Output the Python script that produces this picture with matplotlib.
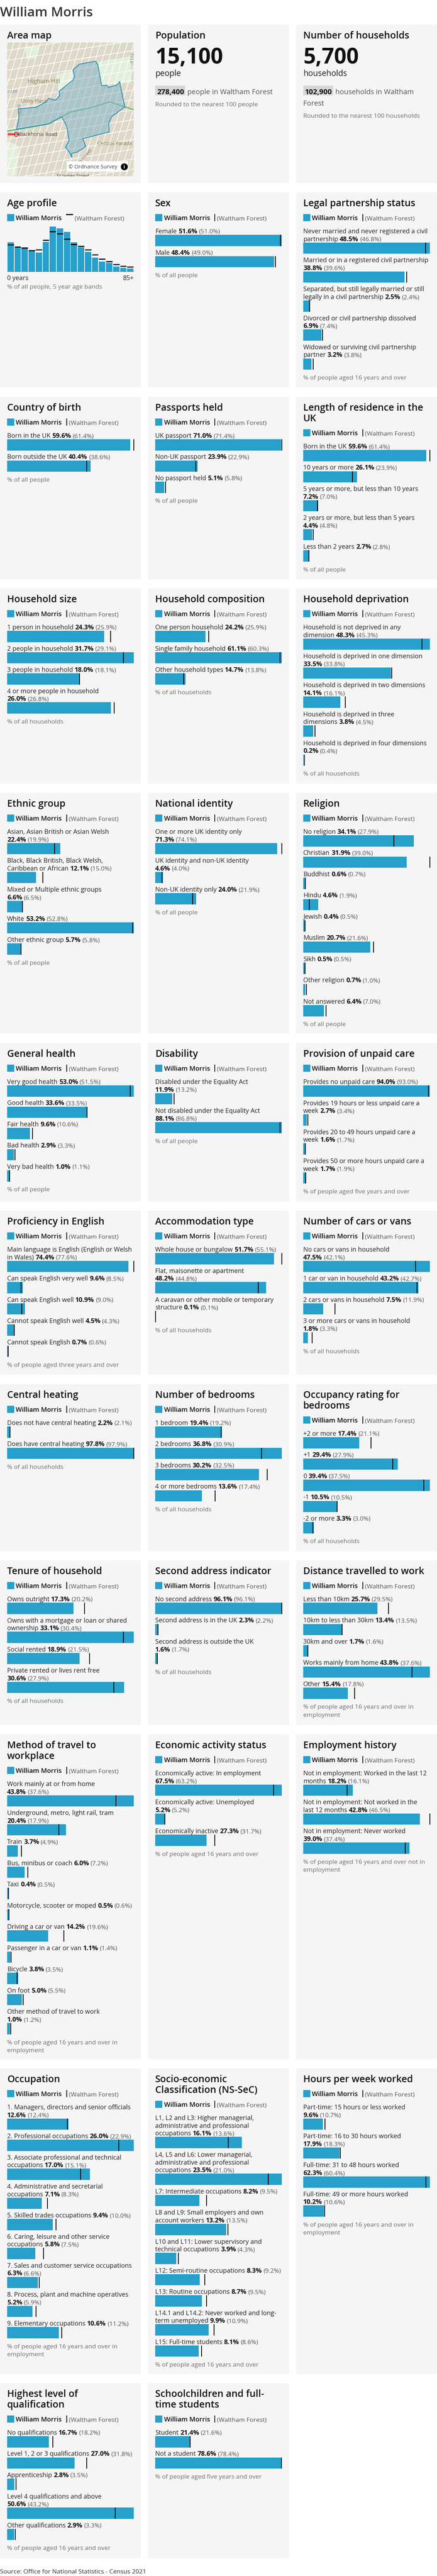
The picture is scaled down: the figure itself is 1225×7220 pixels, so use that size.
#!/usr/bin/python3
import matplotlib
matplotlib.use('Agg')
import numpy as np
import matplotlib.pyplot as plt
from matplotlib.patches import Rectangle, Polygon

plt.rcParams['font.family'] = ['Open Sans', 'DejaVu Sans']

W = 1225
H = 7221

area_name = 'William Morris'
parent_name = '(Waltham Forest)'

# big numbers
population = '15,100'
population_parent = '278,400'
households = '5,700'
households_parent = '102,900'

# age profile, 18 five year bands
age_values = [7.5, 6.1, 6.2, 5.2, 4.8, 7.6, 11.5, 11.0, 10.1, 7.5, 6.2, 5.0, 3.6, 2.6, 2.2, 1.3, 0.9, 0.7]
age_parent = [6.8, 6.3, 6.0, 5.4, 5.6, 8.0, 10.2, 9.7, 8.3, 6.9, 6.5, 5.6, 4.3, 3.2, 2.6, 1.8, 1.4, 1.2]

sex_labels = ['Female', 'Male']
sex_values = [51.6, 48.4]
sex_parent = [51.0, 49.0]

legal_labels = ['Never married and never registered a civil\npartnership', 'Married or in a registered civil partnership\n',
                'Separated, but still legally married or still\nlegally in a civil partnership', 'Divorced or civil partnership dissolved\n',
                'Widowed or surviving civil partnership\npartner']
legal_values = [48.5, 38.8, 2.5, 6.9, 3.2]
legal_parent = [46.8, 39.6, 2.4, 7.4, 3.8]

birth_labels = ['Born in the UK', 'Born outside the UK']
birth_values = [59.6, 40.4]
birth_parent = [61.4, 38.6]

passport_labels = ['UK passport', 'Non-UK passport', 'No passport held']
passport_values = [71.0, 23.9, 5.1]
passport_parent = [71.4, 22.9, 5.8]

residence_labels = ['Born in the UK', '10 years or more', '5 years or more, but less than 10 years\n',
                    '2 years or more, but less than 5 years\n', 'Less than 2 years']
residence_values = [59.6, 26.1, 7.2, 4.4, 2.7]
residence_parent = [61.4, 23.9, 7.0, 4.8, 2.8]

hhsize_labels = ['1 person in household', '2 people in household', '3 people in household', '4 or more people in household\n']
hhsize_values = [24.3, 31.7, 18.0, 26.0]
hhsize_parent = [25.9, 29.1, 18.1, 26.8]

hhcomp_labels = ['One person household', 'Single family household', 'Other household types']
hhcomp_values = [24.2, 61.1, 14.7]
hhcomp_parent = [25.9, 60.3, 13.8]

depr_labels = ['Household is not deprived in any\ndimension', 'Household is deprived in one dimension\n',
               'Household is deprived in two dimensions\n', 'Household is deprived in three\ndimensions',
               'Household is deprived in four dimensions\n']
depr_values = [48.3, 33.5, 14.1, 3.8, 0.2]
depr_parent = [45.3, 33.8, 16.1, 4.5, 0.4]

ethnic_labels = ['Asian, Asian British or Asian Welsh\n', 'Black, Black British, Black Welsh,\nCaribbean or African',
                 'Mixed or Multiple ethnic groups\n', 'White', 'Other ethnic group']
ethnic_values = [22.4, 12.1, 6.6, 53.2, 5.7]
ethnic_parent = [19.9, 15.0, 6.5, 52.8, 5.8]

identity_labels = ['One or more UK identity only\n', 'UK identity and non-UK identity\n', 'Non-UK identity only']
identity_values = [71.3, 4.6, 24.0]
identity_parent = [74.1, 4.0, 21.9]

religion_labels = ['No religion', 'Christian', 'Buddhist', 'Hindu', 'Jewish', 'Muslim', 'Sikh', 'Other religion', 'Not answered']
religion_values = [34.1, 31.9, 0.6, 4.6, 0.4, 20.7, 0.5, 0.7, 6.4]
religion_parent = [27.9, 39.0, 0.7, 1.9, 0.5, 21.6, 0.5, 1.0, 7.0]

health_labels = ['Very good health', 'Good health', 'Fair health', 'Bad health', 'Very bad health']
health_values = [53.0, 33.6, 9.6, 2.9, 1.0]
health_parent = [51.5, 33.5, 10.6, 3.3, 1.1]

disability_labels = ['Disabled under the Equality Act\n', 'Not disabled under the Equality Act\n']
disability_values = [11.9, 88.1]
disability_parent = [13.2, 86.8]

care_labels = ['Provides no unpaid care', 'Provides 19 hours or less unpaid care a\nweek',
               'Provides 20 to 49 hours unpaid care a\nweek', 'Provides 50 or more hours unpaid care a\nweek']
care_values = [94.0, 2.7, 1.6, 1.7]
care_parent = [93.0, 3.4, 1.7, 1.9]

english_labels = ['Main language is English (English or Welsh\nin Wales)', 'Can speak English very well', 'Can speak English well',
                  'Cannot speak English well', 'Cannot speak English']
english_values = [74.4, 9.6, 10.9, 4.5, 0.7]
english_parent = [77.6, 8.5, 9.0, 4.3, 0.6]

accom_labels = ['Whole house or bungalow', 'Flat, maisonette or apartment\n', 'A caravan or other mobile or temporary\nstructure']
accom_values = [51.7, 48.2, 0.1]
accom_parent = [55.1, 44.8, 0.1]

cars_labels = ['No cars or vans in household\n', '1 car or van in household', '2 cars or vans in household', '3 or more cars or vans in household\n']
cars_values = [47.5, 43.2, 7.5, 1.8]
cars_parent = [42.1, 42.7, 11.9, 3.3]

heating_labels = ['Does not have central heating', 'Does have central heating']
heating_values = [2.2, 97.8]
heating_parent = [2.1, 97.9]

bedroom_labels = ['1 bedroom', '2 bedrooms', '3 bedrooms', '4 or more bedrooms']
bedroom_values = [19.4, 36.8, 30.2, 13.6]
bedroom_parent = [19.2, 30.9, 32.5, 17.4]

occupancy_labels = ['+2 or more', '+1', '0', '-1', '-2 or more']
occupancy_values = [17.4, 29.4, 39.4, 10.5, 3.3]
occupancy_parent = [21.1, 27.9, 37.5, 10.5, 3.0]

tenure_labels = ['Owns outright', 'Owns with a mortgage or loan or shared\nownership', 'Social rented', 'Private rented or lives rent free\n']
tenure_values = [17.3, 33.1, 18.9, 30.6]
tenure_parent = [20.2, 30.4, 21.5, 27.9]

second_labels = ['No second address', 'Second address is in the UK', 'Second address is outside the UK\n']
second_values = [96.1, 2.3, 1.6]
second_parent = [96.1, 2.2, 1.7]

distance_labels = ['Less than 10km', '10km to less than 30km', '30km and over', 'Works mainly from home', 'Other']
distance_values = [25.7, 13.4, 1.7, 43.8, 15.4]
distance_parent = [29.5, 13.5, 1.6, 37.6, 17.8]

travel_labels = ['Work mainly at or from home\n', 'Underground, metro, light rail, tram\n', 'Train', 'Bus, minibus or coach', 'Taxi',
                 'Motorcycle, scooter or moped', 'Driving a car or van', 'Passenger in a car or van', 'Bicycle', 'On foot',
                 'Other method of travel to work\n']
travel_values = [43.8, 20.4, 3.7, 6.0, 0.4, 0.5, 14.2, 1.1, 3.8, 5.0, 1.0]
travel_parent = [37.6, 17.9, 4.9, 7.2, 0.5, 0.6, 19.6, 1.4, 3.5, 5.5, 1.2]

economic_labels = ['Economically active: In employment\n', 'Economically active: Unemployed\n', 'Economically inactive']
economic_values = [67.5, 5.2, 27.3]
economic_parent = [63.2, 5.2, 31.7]

history_labels = ['Not in employment: Worked in the last 12\nmonths', 'Not in employment: Not worked in the\nlast 12 months', 'Not in employment: Never worked\n']
history_values = [18.2, 42.8, 39.0]
history_parent = [16.1, 46.5, 37.4]

occupation_labels = ['1. Managers, directors and senior officials\n', '2. Professional occupations', '3. Associate professional and technical\noccupations',
                     '4. Administrative and secretarial\noccupations', '5. Skilled trades occupations', '6. Caring, leisure and other service\noccupations',
                     '7. Sales and customer service occupations\n', '8. Process, plant and machine operatives\n', '9. Elementary occupations']
occupation_values = [12.6, 26.0, 17.0, 7.1, 9.4, 5.8, 6.3, 5.2, 10.6]
occupation_parent = [12.4, 22.9, 15.1, 8.3, 10.0, 7.5, 6.6, 5.9, 11.2]

nssec_labels = ['L1, L2 and L3: Higher managerial,\nadministrative and professional\noccupations', 'L4, L5 and L6: Lower managerial,\nadministrative and professional\noccupations',
                'L7: Intermediate occupations', 'L8 and L9: Small employers and own\naccount workers', 'L10 and L11: Lower supervisory and\ntechnical occupations',
                'L12: Semi-routine occupations', 'L13: Routine occupations', 'L14.1 and L14.2: Never worked and long-\nterm unemployed', 'L15: Full-time students']
nssec_values = [16.1, 23.5, 8.2, 13.2, 3.9, 8.3, 8.7, 9.9, 8.1]
nssec_parent = [13.6, 21.0, 9.5, 13.5, 4.3, 9.2, 9.5, 10.9, 8.6]

hours_labels = ['Part-time: 15 hours or less worked\n', 'Part-time: 16 to 30 hours worked\n', 'Full-time: 31 to 48 hours worked\n', 'Full-time: 49 or more hours worked\n']
hours_values = [9.6, 17.9, 62.3, 10.2]
hours_parent = [10.7, 18.3, 60.4, 10.6]

qual_labels = ['No qualifications', 'Level 1, 2 or 3 qualifications', 'Apprenticeship', 'Level 4 qualifications and above\n', 'Other qualifications']
qual_values = [16.7, 27.0, 2.8, 50.6, 2.9]
qual_parent = [18.2, 31.8, 3.5, 43.2, 3.3]

student_labels = ['Student', 'Not a student']
student_values = [21.4, 78.6]
student_parent = [21.6, 78.4]

# map outline, road in its own units
ward_x = [343, 351, 365, 383, 388, 420, 430, 432, 448, 400, 390, 392, 297, 305, 308, 278, 258, 258, 250, 235, 248, 240, 222, 175, 60, 68, 66, 100, 130, 165, 175, 200, 214, 212, 262, 268, 262, 285]
ward_y = [436, 460, 610, 605, 622, 605, 580, 610, 760, 830, 880, 938, 985, 1025, 1040, 1080, 1090, 1118, 1085, 1045, 1000, 900, 830, 880, 920, 840, 775, 768, 762, 725, 700, 712, 680, 650, 570, 545, 498, 457]
road_x = [26, 60, 175, 222, 250, 335, 395, 448, 480]
road_y = [932, 920, 880, 830, 798, 760, 725, 760, 780]

blue = '#27a0cc'
card_bg = '#f5f5f6'
text_dark = '#222222'
text_mid = '#555555'
text_light = '#707071'

col_x = [0, 415, 830]
card_w = 395
pad = 20
chart_w = 355
bar_h = 31.5

# font sizes in pixels
SIZE_TITLE = 26.7
SIZE_LABEL = 17.9
SIZE_VALUE = 18.3
SIZE_PARENT = 17.5
SIZE_FOOT = 17.5

# top and bottom of every row of cards
row_top = [70, 540, 1113, 1650, 2223, 2924, 3394, 3880, 4374, 4862, 5798, 6680]
row_bottom = [514, 1087, 1625, 2197, 2898, 3369, 3854, 4349, 4836, 5773, 6655, 7171]

F_ALL = '% of all people'
F_HH = '% of all households'
F_16 = '% of people aged 16 years and over'
F_16E = '% of people aged 16 years and over in\nemployment'
F_5 = '% of people aged five years and over'

cards = [
    (1, 1, 'Sex', sex_labels, sex_values, sex_parent, F_ALL),
    (1, 2, 'Legal partnership status', legal_labels, legal_values, legal_parent, F_16),
    (2, 0, 'Country of birth', birth_labels, birth_values, birth_parent, F_ALL),
    (2, 1, 'Passports held', passport_labels, passport_values, passport_parent, F_ALL),
    (2, 2, 'Length of residence in the\nUK', residence_labels, residence_values, residence_parent, F_ALL),
    (3, 0, 'Household size', hhsize_labels, hhsize_values, hhsize_parent, F_HH),
    (3, 1, 'Household composition', hhcomp_labels, hhcomp_values, hhcomp_parent, F_HH),
    (3, 2, 'Household deprivation', depr_labels, depr_values, depr_parent, F_HH),
    (4, 0, 'Ethnic group', ethnic_labels, ethnic_values, ethnic_parent, F_ALL),
    (4, 1, 'National identity', identity_labels, identity_values, identity_parent, F_ALL),
    (4, 2, 'Religion', religion_labels, religion_values, religion_parent, F_ALL),
    (5, 0, 'General health', health_labels, health_values, health_parent, F_ALL),
    (5, 1, 'Disability', disability_labels, disability_values, disability_parent, F_ALL),
    (5, 2, 'Provision of unpaid care', care_labels, care_values, care_parent, F_5),
    (6, 0, 'Proficiency in English', english_labels, english_values, english_parent, '% of people aged three years and over'),
    (6, 1, 'Accommodation type', accom_labels, accom_values, accom_parent, F_HH),
    (6, 2, 'Number of cars or vans', cars_labels, cars_values, cars_parent, F_HH),
    (7, 0, 'Central heating', heating_labels, heating_values, heating_parent, F_HH),
    (7, 1, 'Number of bedrooms', bedroom_labels, bedroom_values, bedroom_parent, F_HH),
    (7, 2, 'Occupancy rating for\nbedrooms', occupancy_labels, occupancy_values, occupancy_parent, F_HH),
    (8, 0, 'Tenure of household', tenure_labels, tenure_values, tenure_parent, F_HH),
    (8, 1, 'Second address indicator', second_labels, second_values, second_parent, F_HH),
    (8, 2, 'Distance travelled to work', distance_labels, distance_values, distance_parent, F_16E),
    (9, 0, 'Method of travel to\nworkplace', travel_labels, travel_values, travel_parent, F_16E),
    (9, 1, 'Economic activity status', economic_labels, economic_values, economic_parent, F_16),
    (9, 2, 'Employment history', history_labels, history_values, history_parent, '% of people aged 16 years and over not in\nemployment'),
    (10, 0, 'Occupation', occupation_labels, occupation_values, occupation_parent, F_16E),
    (10, 1, 'Socio-economic\nClassification (NS-SeC)', nssec_labels, nssec_values, nssec_parent, F_16),
    (10, 2, 'Hours per week worked', hours_labels, hours_values, hours_parent, F_16E),
    (11, 0, 'Highest level of\nqualification', qual_labels, qual_values, qual_parent, F_16),
    (11, 1, 'Schoolchildren and full-\ntime students', student_labels, student_values, student_parent, F_5),
]

fig = plt.figure(figsize=(W / 100, H / 100), dpi=100, facecolor='white')
bg = fig.add_axes([0, 0, 1, 1])
bg.set_xlim(0, W)
bg.set_ylim(H, 0)
bg.axis('off')
renderer = fig.canvas.get_renderer()


def px(size):
    return size * 0.72


def chain(x, y, parts):
    # draw runs of text on one baseline, one after the other
    for s, size, weight, color, gap in parts:
        t = bg.text(x, y, s, fontsize=px(size), fontweight=weight, color=color, va='baseline', ha='left')
        x = x + t.get_window_extent(renderer).width + gap
    return x


def centre_text(x, yc, s, size, weight='normal', color=text_dark):
    # yc is the middle of the line, the baseline sits a third of the size below it
    bg.text(x, yc + size * 0.34, s, fontsize=px(size), fontweight=weight, color=color, va='baseline', ha='left')


def draw_card(col, row):
    bg.add_patch(Rectangle((col_x[col], row_top[row]), card_w, row_bottom[row] - row_top[row], color=card_bg, lw=0, zorder=0))


def draw_title(x, top, title):
    lines = title.split('\n')
    for i, line in enumerate(lines):
        centre_text(x, top + 29 + 30 * i, line, SIZE_TITLE, 'semibold', '#111111')
    return len(lines)


def draw_legend(x, yc, age=False):
    bg.add_patch(Rectangle((x, yc - 10), 20, 20, color=blue, lw=0, zorder=2))
    centre_text(x + 24.5, yc, area_name, 18.4, 'semibold', '#111111')
    if age:
        bg.add_patch(Rectangle((x + 165, yc - 10), 20, 3, color='black', lw=0, zorder=2))
        centre_text(x + 189, yc + 1, parent_name, SIZE_PARENT, 'normal', text_mid)
    else:
        bg.add_patch(Rectangle((x + 165.5, yc - 10), 2.6, 20, color='black', lw=0, zorder=2))
        centre_text(x + 173, yc + 1, parent_name, SIZE_PARENT, 'normal', text_mid)


def draw_bars(col, row, title, labels, values, parent, footer):
    x = col_x[col] + pad
    top = row_top[row]
    nt = draw_title(x, top, title)
    draw_legend(x, top + 71 + 30 * (nt - 1))
    ax = fig.add_axes([x / W, 1 - row_bottom[row] / H, chart_w / W, (row_bottom[row] - top) / H])
    ax.set_xlim(0, max(values + parent))
    ax.set_ylim(row_bottom[row], top)
    ax.axis('off')
    yc = top + 108 + 30 * (nt - 1)
    for lab, v, p in zip(labels, values, parent):
        lines = lab.split('\n')
        for line in lines[:-1]:
            centre_text(x, yc, line, SIZE_LABEL)
            yc += 21.7
        base = yc + 6
        parts = []
        if lines[-1]:
            parts.append((lines[-1], SIZE_LABEL, 'normal', text_dark, 4.5))
        parts.append(('%.1f%%' % v, SIZE_VALUE, 'bold', '#111111', 4))
        parts.append(('(%.1f%%)' % p, SIZE_PARENT, 'normal', text_mid, 0))
        chain(x, base, parts)
        bar_top = yc + 11
        ax.barh(bar_top + bar_h / 2, v, height=bar_h, color=blue, linewidth=0)
        ax.vlines(p, bar_top, bar_top + bar_h, color='black', linewidth=px(2.2), clip_on=False, zorder=3)
        yc = bar_top + bar_h + 17
    yc = yc - 17 + 21
    for line in footer.split('\n'):
        centre_text(x, yc, line, SIZE_FOOT, 'normal', text_light)
        yc += 22.5


def draw_age():
    x = col_x[0] + pad
    top = row_top[1]
    draw_title(x, top, 'Age profile')
    draw_legend(x, top + 71, age=True)
    ax = fig.add_axes([x / W, 1 - 762 / H, chart_w / W, 128 / H])
    pos = np.arange(len(age_values))
    ax.bar(pos, age_values, width=0.9, color=blue, linewidth=0)
    ax.hlines(age_parent, pos - 0.45, pos + 0.45, color='black', linewidth=px(3), zorder=3)
    ax.set_xlim(-0.5, len(age_values) - 0.5)
    ax.set_ylim(0, 11.5 * 128 / 126)
    for s in ['top', 'left', 'right']:
        ax.spines[s].set_visible(False)
    ax.spines['bottom'].set_color('#888888')
    ax.set_xticks([])
    ax.set_yticks([])
    ax.patch.set_alpha(0)
    centre_text(x, 779, '0 years', SIZE_LABEL)
    bg.text(x + chart_w, 779 + 6, '85+', fontsize=px(SIZE_LABEL), color=text_dark, va='baseline', ha='right')
    centre_text(x, 803, '% of all people, 5 year age bands', SIZE_FOOT, 'normal', text_light)


def draw_map():
    x = col_x[0] + pad
    top = row_top[0]
    centre_text(x, top + 29, 'Area map', SIZE_TITLE, 'semibold', '#111111')
    ax = fig.add_axes([x / W, 1 - 495 / H, chart_w / W, 375 / H])
    ax.set_xlim(26, 480)
    ax.set_ylim(1252, 303)
    ax.axis('off')
    ax.add_patch(Rectangle((26, 303), 454, 949, color='#ddd8c7', lw=0, zorder=0))
    # parks
    for park_x, park_y in [([350, 470, 470, 430, 365], [440, 400, 590, 590, 610]), ([26, 70, 60, 26], [1000, 1040, 1250, 1250]),
                           ([205, 265, 260, 210], [530, 500, 590, 650]), ([90, 140, 130, 95], [330, 330, 420, 420])]:
        ax.add_patch(Polygon(np.column_stack([park_x, park_y]), color='#e3efdc', lw=0, zorder=1))
    # street pattern, only a background texture
    for x0 in np.arange(-220, 760, 24):
        ax.plot([x0, x0 + 150], [1252, 303], color='white', lw=1.3, zorder=2)
    for y0 in np.arange(220, 1420, 70):
        ax.plot([26, 480], [y0 + 70, y0 - 70], color='white', lw=1.3, zorder=2)
    ax.plot(road_x, road_y, color='#6dbf7a', lw=2.6, zorder=3)
    ward = np.column_stack([ward_x, ward_y])
    ax.add_patch(Polygon(ward, closed=True, facecolor='#7fb2c8', alpha=0.5, lw=0, zorder=4))
    ax.add_patch(Polygon(ward, closed=True, fill=False, edgecolor='#1f8fb8', lw=1.6, zorder=5))
    ax.text(158, 580, 'Higham Hill', fontsize=px(17), color='#8d7f4e', ha='center', va='center', zorder=6)
    ax.text(122, 720, 'Unity Place', fontsize=px(14), color='#8d7f4e', ha='center', va='center', zorder=6)
    ax.text(135, 954, 'Blackhorse Road', fontsize=px(14), color='#444444', ha='center', va='center', zorder=6)
    ax.text(412, 1021, 'Central Parade', fontsize=px(14), color='#8d7f4e', ha='center', va='center', zorder=6)
    ax.text(45, 648, 'r Lee', fontsize=px(13), color='#5a8fc0', style='italic', ha='center', va='center', zorder=6)
    ax.text(300, 1125, 'High Street', fontsize=px(13), color='#777777', rotation=50, ha='center', va='center', zorder=6)
    ax.text(475, 410, 'A112', fontsize=px(12), color='#888888', rotation=85, ha='center', va='center', zorder=6)
    ax.text(66, 775, 'B179', fontsize=px(12), color='#888888', rotation=-85, ha='center', va='center', zorder=6)
    ax.text(262, 1246, 'St James Street', fontsize=px(13), color='#444444', ha='center', va='center', zorder=6, clip_on=True)
    ax.plot([58], [954], 'o', mfc='none', mec='#d0202a', ms=8, mew=1.6, zorder=7)
    ax.plot([46, 70], [954, 954], color='#1f3f9a', lw=1.4, zorder=7)
    ax.plot([30, 46], [950, 950], color='#d0202a', lw=1.6, zorder=7)
    ax.plot([30, 46], [959, 959], color='#d0202a', lw=1.6, zorder=7)
    ax.add_patch(Rectangle((240, 1146), 220, 74, color='white', lw=0, zorder=8))
    ax.text(334, 1186, '© Ordnance Survey', fontsize=px(15), color='#444444', ha='center', va='center', zorder=9)
    ax.plot([445], [1183], 'o', color='black', ms=13, zorder=9)
    ax.text(445, 1183, 'i', fontsize=px(14), fontweight='bold', color='white', ha='center', va='center', zorder=10)


def draw_count(col, title, value, unit, parent_value, parent_lines, note):
    x = col_x[col] + pad
    top = row_top[0]
    centre_text(x, top + 29, title, SIZE_TITLE, 'semibold', '#111111')
    bg.text(x, 178, value, fontsize=px(60.5), fontweight='bold', color='#111111', va='baseline', ha='left')
    centre_text(x, 205.5, unit, 22.6)
    bg.add_patch(Rectangle((x, 241), 84, 27, color='#d6d6d6', lw=0, zorder=1))
    centre_text(x + 5, 257, parent_value, 20.4, 'bold', '#111111')
    yc = 257
    centre_text(x + 90, yc, parent_lines[0], 20, 'normal', text_mid)
    for line in parent_lines[1:]:
        yc += 32
        centre_text(x, yc, line, 20, 'normal', text_mid)
    centre_text(x, yc + 35.5, note, SIZE_FOOT, 'normal', text_light)


# title of the page and source
bg.text(0, 46, area_name, fontsize=px(37.3), fontweight='semibold', color='#333333', va='baseline', ha='left')

for r in range(len(row_top)):
    for c in range(3):
        if r == 11 and c == 2:
            continue
        draw_card(c, r)

draw_map()
draw_count(1, 'Population', population, 'people', population_parent, ['people in Waltham Forest'], 'Rounded to the nearest 100 people')
draw_count(2, 'Number of households', households, 'households', households_parent, ['households in Waltham', 'Forest'], 'Rounded to the nearest 100 households')
draw_age()
for row, col, title, labels, values, parent, footer in cards:
    draw_bars(col, row, title, labels, values, parent, footer)

centre_text(0, 7207, 'Source: Office for National Statistics - Census 2021', SIZE_FOOT, 'normal', '#333333')

fig.savefig('out.png', dpi=100, facecolor='white')
plt.close(fig)
